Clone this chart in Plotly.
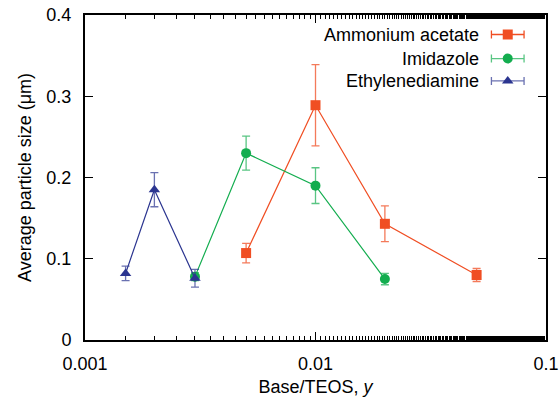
import plotly.graph_objects as go

# ---- data ----
aa_x = [0.005, 0.01, 0.02, 0.05]
aa_y = [0.107, 0.289, 0.143, 0.080]
aa_e = [0.012, 0.050, 0.022, 0.008]

im_x = [0.003, 0.005, 0.01, 0.02]
im_y = [0.078, 0.230, 0.190, 0.075]
im_e = [0.005, 0.021, 0.022, 0.007]

ed_x = [0.0015, 0.002, 0.003]
ed_y = [0.082, 0.185, 0.076]
ed_e = [0.009, 0.021, 0.011]

names = ["Ammonium acetate", "Imidazole", "Ethylenediamine"]
colors = ["#F04E23", "#13AD4F", "#2B3590"]
ecolors = ["rgba(240,78,35,0.75)", "rgba(19,173,79,0.7)", "rgba(43,53,144,0.7)"]
symbols = ["square", "circle", "triangle-up"]
sizes = [10, 10, 10]

FONT = "Liberation Sans, Arial, sans-serif"

fig = go.Figure()
series = [(aa_x, aa_y, aa_e), (im_x, im_y, im_e), (ed_x, ed_y, ed_e)]
for i, (x, y, e) in enumerate(series):
    fig.add_trace(go.Scatter(
        x=x, y=y, mode="lines+markers", name=names[i], showlegend=False,
        line=dict(color=colors[i], width=1.2),
        marker=dict(symbol=symbols[i], size=sizes[i], color=colors[i]),
        error_y=dict(type="data", array=e, visible=True, color=ecolors[i],
                     thickness=1.3, width=4),
    ))

# manual legend (symbol to the right of text) on an overlay axis
leg_x = 0.917
leg_y = [0.940, 0.866, 0.797]
leg_half = 0.0354
for i in range(3):
    fig.add_trace(go.Scatter(
        x=[leg_x], y=[leg_y[i]], xaxis="x2", yaxis="y2", mode="markers",
        showlegend=False, hoverinfo="skip",
        marker=dict(symbol=symbols[i], size=sizes[i], color=colors[i]),
        error_x=dict(type="constant", value=leg_half, visible=True,
                     color=ecolors[i] if i else colors[i], thickness=1.3, width=4),
    ))
    fig.add_annotation(
        x=0.859, y=leg_y[i], xref="paper", yref="paper", text=names[i],
        showarrow=False, xanchor="right", yanchor="middle",
        font=dict(family=FONT, size=18, color="black"),
    )

axis_common = dict(
    showline=True, linecolor="black", linewidth=2, mirror="ticks",
    ticks="inside", ticklen=8, tickwidth=1.2, tickcolor="black",
    showgrid=False, zeroline=False, automargin=False,
    tickfont=dict(family=FONT, size=18, color="black"),
)

fig.update_layout(
    width=560, height=399,
    margin=dict(l=85, r=14, t=15, b=59),
    paper_bgcolor="white", plot_bgcolor="white",
    font=dict(family=FONT, size=18, color="black"),
    xaxis=dict(
        type="log", range=[-3, -1],
        tickvals=[0.001, 0.01, 0.1], ticktext=["0.001", "0.01", "0.1"],
        minor=dict(ticks="inside", ticklen=4, tickwidth=1, tickcolor="black", showgrid=False),
        ticklabelstandoff=6,
        title=dict(text="Base/TEOS, <i>y</i>", font=dict(family=FONT, size=18), standoff=8),
        **axis_common,
    ),
    yaxis=dict(
        range=[0, 0.4], tickvals=[0, 0.1, 0.2, 0.3, 0.4],
        ticktext=["0", "0.1", "0.2", "0.3", "0.4"],
        ticklabelstandoff=8,
        title=dict(text="Average particle size (μm)", font=dict(family=FONT, size=18), standoff=10),
        **axis_common,
    ),
    xaxis2=dict(overlaying="x", range=[0, 1], visible=False, fixedrange=True),
    yaxis2=dict(overlaying="y", range=[0, 1], visible=False, fixedrange=True),
)

fig.write_html("out.html")
